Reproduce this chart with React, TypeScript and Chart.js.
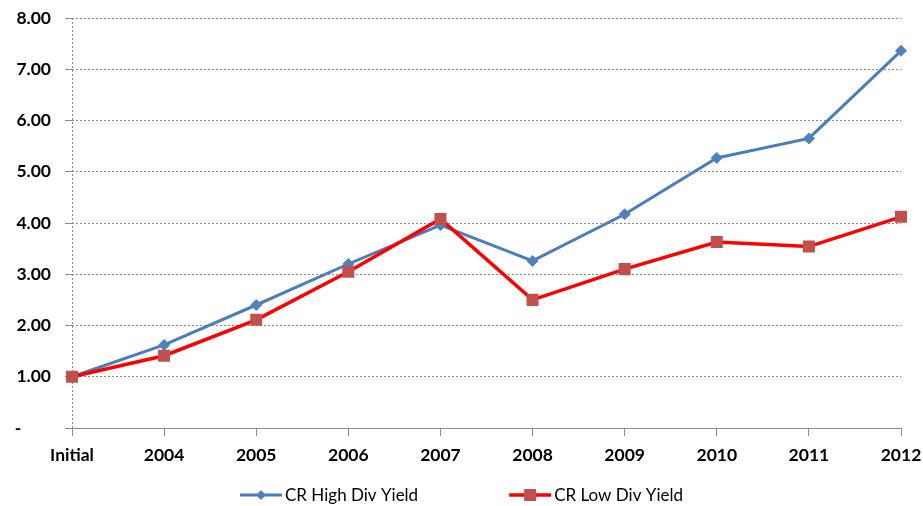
import React, { useEffect, useRef } from "react";
import { Chart, registerables } from "chart.js";

Chart.register(...registerables);

const categories = ["Initial", "2004", "2005", "2006", "2007", "2008", "2009", "2010", "2011", "2012"];
const highDivYield = [1.0, 1.62, 2.4, 3.2, 3.96, 3.26, 4.17, 5.27, 5.65, 7.36];
const lowDivYield = [1.0, 1.41, 2.11, 3.05, 4.08, 2.5, 3.1, 3.63, 3.54, 4.12];
const seriesNames = ["CR High Div Yield", "CR Low Div Yield"];

const FONT = "Lato, 'Liberation Sans', sans-serif";
const BLUE_LINE = "#4A7EBB";
const BLUE_MARK = "#4F81BD";
const RED_LINE = "#FF0000";
const RED_MARK = "#C0504D";
const GRID = "#8a8a8a";

// Excel-style legend: a short line with the series marker in its middle, then the name.
const lineMarkerLegend = {
  id: "lineMarkerLegend",
  afterDraw(chart: any) {
    const { ctx } = chart;
    const items = [
      { text: seriesNames[0], line: BLUE_LINE, lw: 3, mark: BLUE_MARK, shape: "diamond" },
      { text: seriesNames[1], line: RED_LINE, lw: 3.5, mark: RED_MARK, shape: "square" },
    ];
    const segLen = 42;
    const textGap = 3;
    const itemGap = 91;
    ctx.save();
    ctx.font = `17px ${FONT}`;
    const widths = items.map((it) => segLen + textGap + ctx.measureText(it.text).width);
    const total = widths.reduce((a, b) => a + b, 0) + itemGap * (items.length - 1);
    let x = chart.width / 2 - total / 2;
    const y = chart.height - 11;
    items.forEach((it, i) => {
      ctx.strokeStyle = it.line;
      ctx.lineWidth = it.lw;
      ctx.beginPath();
      ctx.moveTo(x, y);
      ctx.lineTo(x + segLen, y);
      ctx.stroke();
      const cx = x + segLen / 2;
      ctx.fillStyle = it.mark;
      if (it.shape === "diamond") {
        ctx.beginPath();
        ctx.moveTo(cx, y - 5);
        ctx.lineTo(cx + 5, y);
        ctx.lineTo(cx, y + 5);
        ctx.lineTo(cx - 5, y);
        ctx.closePath();
        ctx.fill();
      } else {
        ctx.fillRect(cx - 6, y - 6, 12, 12);
      }
      ctx.fillStyle = "#000";
      ctx.textBaseline = "middle";
      ctx.textAlign = "left";
      ctx.fillText(it.text, x + segLen + textGap, y + 1);
      x += widths[i] + itemGap;
    });
    ctx.restore();
  },
};

export default function App() {
  const canvasRef = useRef<HTMLCanvasElement | null>(null);

  useEffect(() => {
    if (!canvasRef.current) return;
    const chart = new Chart(canvasRef.current, {
      type: "line",
      data: {
        labels: categories,
        datasets: [
          {
            label: seriesNames[0],
            data: highDivYield,
            borderColor: BLUE_LINE,
            borderWidth: 3,
            pointStyle: "rectRot",
            pointRadius: 5.5,
            pointBackgroundColor: BLUE_MARK,
            pointBorderColor: BLUE_MARK,
            pointBorderWidth: 1,
            tension: 0,
            order: 1,
          },
          {
            label: seriesNames[1],
            data: lowDivYield,
            borderColor: RED_LINE,
            borderWidth: 3.5,
            pointStyle: "rect",
            pointRadius: 8.5,
            pointBackgroundColor: RED_MARK,
            pointBorderColor: RED_MARK,
            pointBorderWidth: 0,
            tension: 0,
            order: 0,
          },
        ],
      },
      options: {
        responsive: false,
        animation: false,
        devicePixelRatio: 1,
        layout: { padding: { top: 18, right: 22, bottom: 30, left: 0 } },
        plugins: {
          legend: { display: false },
          tooltip: { enabled: false },
        },
        scales: {
          x: {
            offset: false,
            grid: {
              drawOnChartArea: true,
              color: (c: any) => (c.index === 0 ? GRID : "rgba(0,0,0,0)"),
              tickColor: GRID,
              tickLength: 8,
            },
            border: { display: true, color: GRID, dash: [2, 2] },
            ticks: {
              color: "#000",
              font: { family: FONT, size: 17.5, weight: "bold" },
              padding: 9,
              maxRotation: 0,
              autoSkip: false,
            },
            afterFit(scale: any) {
              scale.height = 48;
              scale.paddingLeft = 0;
              scale.paddingRight = 0;
            },
          },
          y: {
            min: 0,
            max: 8,
            grid: {
              color: GRID,
              tickColor: GRID,
              tickLength: 7,
            },
            border: { display: false, dash: [2, 2] },
            ticks: {
              stepSize: 1,
              color: "#000",
              font: { family: FONT, size: 17.5, weight: "bold" },
              padding: 14,
              callback: (v: any) => (Number(v) === 0 ? "-       " : Number(v).toFixed(2)),
            },
            afterFit(scale: any) {
              scale.width = 72;
              scale.paddingTop = 0;
              scale.paddingBottom = 0;
            },
          },
        },
      },
      plugins: [lineMarkerLegend],
    });
    return () => chart.destroy();
  }, []);

  return (
    <div style={{ position: "absolute", left: 0, top: 0, width: 923, height: 506, background: "#fff" }}>
      <canvas ref={canvasRef} width={923} height={506} />
    </div>
  );
}
